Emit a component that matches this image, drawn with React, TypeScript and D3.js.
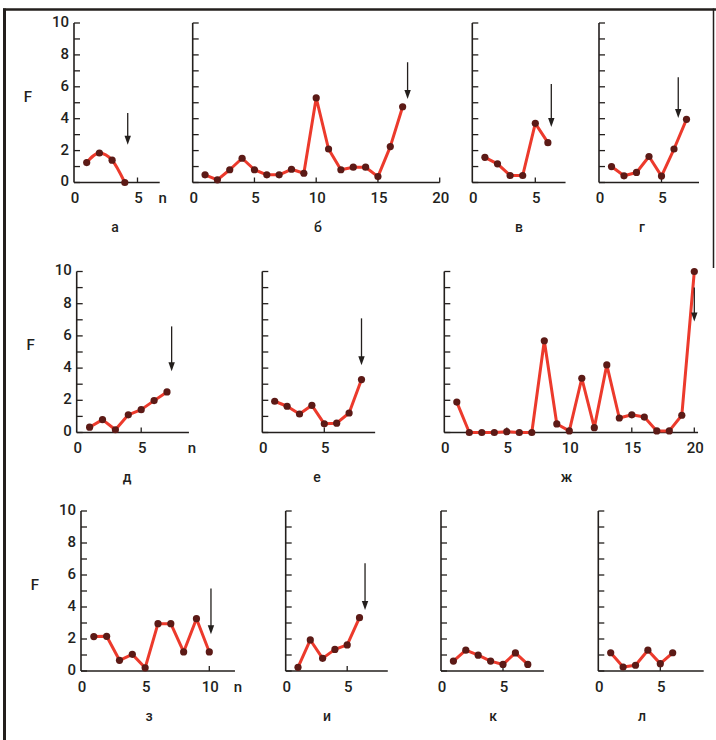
import { useRef, useEffect } from 'react';
import * as d3 from 'd3';

// F values per panel, n = 1, 2, 3 ...
const fA = [1.25, 1.85, 1.4, 0];
const fB = [0.48, 0.17, 0.8, 1.52, 0.8, 0.48, 0.48, 0.83, 0.58, 5.3, 2.1, 0.8, 0.96, 0.96, 0.37, 2.25, 4.75];
const fV = [1.58, 1.17, 0.44, 0.44, 3.71, 2.5];
const fG = [1.0, 0.42, 0.63, 1.63, 0.4, 2.1, 3.96];
const fD = [0.33, 0.8, 0.17, 1.1, 1.42, 1.98, 2.52];
const fE = [1.94, 1.63, 1.15, 1.69, 0.54, 0.58, 1.21, 3.29];
const fZh = [1.89, 0, 0, 0, 0.05, 0, 0, 5.7, 0.53, 0.1, 3.37, 0.3, 4.2, 0.9, 1.1, 0.96, 0.1, 0.1, 1.07, 10];
const fZ = [2.15, 2.17, 0.67, 1.04, 0.2, 2.96, 2.96, 1.19, 3.27, 1.19];
const fI = [0.23, 1.94, 0.79, 1.35, 1.63, 3.33];
const fK = [0.62, 1.3, 0.99, 0.62, 0.41, 1.13, 0.41];
const fL = [1.14, 0.25, 0.36, 1.3, 0.46, 1.14];

const panelLetters = ['а', 'б', 'в', 'г', 'д', 'е', 'ж', 'з', 'и', 'к', 'л'];
const yTickLabels = [0, 2, 4, 6, 8, 10];
const xTicksShort = [0, 5];
const xTicksLong = [0, 5, 10, 15, 20];
const xTicksMid = [0, 5, 10];

// arrows: n, F start, F end
const arrowA = [4.23, 4.36, 2.36];
const arrowB = [17.4, 7.54, 5.23];
const arrowV = [6.27, 6.17, 3.48];
const arrowG = [6.34, 6.6, 4.04];
const arrowD = [7.36, 6.59, 3.81];
const arrowE = [8.0, 7.09, 4.17];
const arrowZh = [20, 9.0, 6.9];
const arrowZ = [10.13, 5.15, 2.29];
const arrowI = [6.45, 6.73, 3.81];

const ROWS = [
  { top: 23, bottom: 182.5 },
  { top: 271.5, bottom: 432.5 },
  { top: 511, bottom: 671 },
];

const PANELS = [
  { data: fA, x0: 74, unit: 12.7, xmax: 6.75, row: 0, lx: 115, ticks: xTicksShort, axisLabels: true, arrow: arrowA, smooth: true },
  { data: fB, x0: 192.7, unit: 12.35, xmax: 20, row: 0, lx: 318, ticks: xTicksLong, arrow: arrowB },
  { data: fV, x0: 472.3, unit: 12.6, xmax: 7.4, row: 0, lx: 519, ticks: xTicksShort, arrow: arrowV },
  { data: fG, x0: 599, unit: 12.5, xmax: 8, row: 0, lx: 642, ticks: xTicksShort, arrow: arrowG },
  { data: fD, x0: 76.7, unit: 12.9, xmax: 8.7, row: 1, lx: 127, ticks: xTicksShort, axisLabels: true, arrow: arrowD },
  { data: fE, x0: 262.3, unit: 12.4, xmax: 9.1, row: 1, lx: 317, ticks: xTicksShort, arrow: arrowE },
  { data: fZh, x0: 444.3, unit: 12.5, xmax: 20.3, row: 1, lx: 566.5, ticks: xTicksLong, arrow: arrowZh },
  { data: fZ, x0: 81, unit: 12.83, xmax: 12, row: 2, lx: 149, ticks: xTicksMid, axisLabels: true, arrow: arrowZ },
  { data: fI, x0: 285.7, unit: 12.3, xmax: 8.3, row: 2, lx: 327, ticks: xTicksShort, arrow: arrowI },
  { data: fK, x0: 441, unit: 12.4, xmax: 8.3, row: 2, lx: 493, ticks: xTicksShort },
  { data: fL, x0: 598.3, unit: 12.4, xmax: 8.5, row: 2, lx: 642, ticks: xTicksShort },
];

const INK = '#231f1d';
const RED = '#ec3a2c';
const DOT = '#5c1a16';
const FONT = 'Roboto, "Liberation Sans", Arial, sans-serif';

function App() {
  const svgRef = useRef(null);

  useEffect(() => {
    const svg = d3.select(svgRef.current);
    svg.selectAll('*').remove();

    const label = (g, x, y, txt, anchor = 'middle', size = 15) =>
      g.append('text').attr('x', x).attr('y', y)
        .attr('text-anchor', anchor).attr('dominant-baseline', 'middle')
        .style('font-family', FONT).style('font-size', size + 'px').style('font-weight', 500)
        .attr('fill', INK).text(txt);

    // frame
    svg.append('line').attr('x1', 3).attr('x2', 716).attr('y1', 9.5).attr('y2', 9.5)
      .attr('stroke', INK).attr('stroke-width', 2.5);
    svg.append('line').attr('x1', 4.5).attr('x2', 4.5).attr('y1', 8.5).attr('y2', 740)
      .attr('stroke', INK).attr('stroke-width', 3);
    svg.append('line').attr('x1', 713.5).attr('x2', 713.5).attr('y1', 8.5).attr('y2', 268)
      .attr('stroke', INK).attr('stroke-width', 1.5);

    PANELS.forEach((p, i) => {
      const { top, bottom } = ROWS[p.row];
      const g = svg.append('g');

      const x = d3.scaleLinear().domain([0, p.xmax]).range([p.x0, p.x0 + p.xmax * p.unit]);
      const y = d3.scaleLinear().domain([0, 10]).range([bottom, top]);

      // y axis with inward ticks
      g.append('line').attr('x1', x(0)).attr('x2', x(0)).attr('y1', y(10)).attr('y2', y(0))
        .attr('stroke', INK).attr('stroke-width', 1.6);
      d3.range(0, 11).forEach(v => {
        g.append('line').attr('x1', x(0)).attr('x2', x(0) + 6).attr('y1', y(v)).attr('y2', y(v))
          .attr('stroke', INK).attr('stroke-width', 1.3);
      });

      // x axis with upward ticks
      g.append('line').attr('x1', x(0)).attr('x2', x(p.xmax)).attr('y1', y(0)).attr('y2', y(0))
        .attr('stroke', INK).attr('stroke-width', 1.6);
      p.ticks.filter(t => t > 0).forEach(t => {
        g.append('line').attr('x1', x(t)).attr('x2', x(t)).attr('y1', y(0)).attr('y2', y(0) - 5)
          .attr('stroke', INK).attr('stroke-width', 1.3);
      });
      p.ticks.forEach(t => label(g, x(t) + 1, y(0) + 17, t));

      if (p.axisLabels) {
        yTickLabels.forEach(v => label(g, x(0) - 5, y(v), v, 'end'));
        label(g, x(0) - 46, top + 75, 'F');
        label(g, x(p.xmax) + 3, y(0) + 17, 'n');
      }

      // panel letter
      label(g, p.lx, bottom + 46, panelLetters[i], 'middle', 14);

      const pts = p.data.map((f, k) => ({ n: k + 1, f }));
      const line = d3.line()
        .x(d => x(d.n))
        .y(d => y(d.f))
        .curve(p.smooth ? d3.curveMonotoneX : d3.curveLinear);

      g.append('path').datum(pts)
        .attr('fill', 'none').attr('stroke', RED).attr('stroke-width', 3)
        .attr('stroke-linejoin', 'round').attr('d', line);

      g.selectAll('circle.pt').data(pts).enter().append('circle')
        .attr('class', 'pt')
        .attr('cx', d => x(d.n)).attr('cy', d => y(d.f)).attr('r', 3.6)
        .attr('fill', DOT);

      if (p.arrow) {
        const [an, f1, f2] = p.arrow;
        const ax = x(an);
        const yTip = y(f2);
        const headLen = 9;
        g.append('line').attr('x1', ax).attr('x2', ax).attr('y1', y(f1)).attr('y2', yTip - headLen + 1)
          .attr('stroke', INK).attr('stroke-width', 1.3);
        g.append('path')
          .attr('d', `M${ax - 3.2},${yTip - headLen} L${ax + 3.2},${yTip - headLen} L${ax},${yTip} Z`)
          .attr('fill', INK);
      }
    });
  }, []);

  return (
    <svg ref={svgRef} width={716} height={740}
      style={{ position: 'absolute', left: 0, top: 0, background: '#fff' }} />
  );
}

export default App;
